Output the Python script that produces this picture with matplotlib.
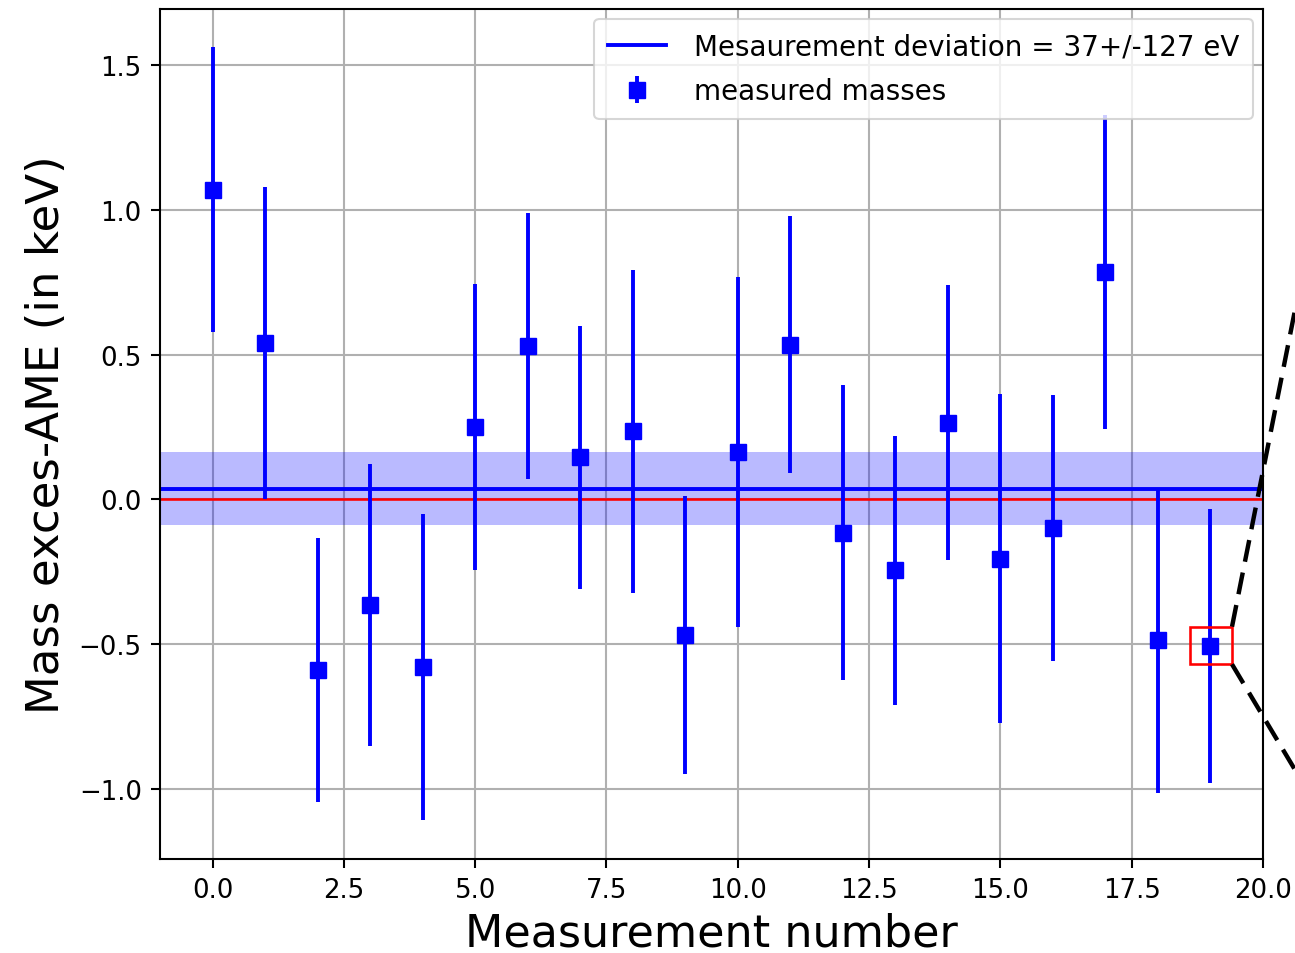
import numpy as np
import matplotlib
matplotlib.use("Agg")
import matplotlib.pyplot as plt
from matplotlib.patches import Rectangle

# Mass excess relative to AME for each measurement (keV) and its uncertainty
measurement = list(range(20))
mass_excess = [1.07, 0.54, -0.59, -0.365, -0.58, 0.25, 0.53, 0.145, 0.235, -0.47,
               0.165, 0.535, -0.115, -0.245, 0.265, -0.205, -0.10, 0.785, -0.487, -0.507]
mass_err = [0.493, 0.54, 0.455, 0.487, 0.528, 0.495, 0.46, 0.455, 0.557, 0.48,
            0.605, 0.445, 0.51, 0.465, 0.475, 0.568, 0.46, 0.543, 0.527, 0.475]

# Weighted deviation (eV)
mean_dev_ev = 37
mean_err_ev = 127

S = 1.87  # global size scale

fig = plt.figure(figsize=(12.95, 9.54), dpi=100)
ax = fig.add_axes([160 / 1295, 94 / 954, (1263 - 160) / 1295, (860 - 10) / 954])

mean_kev = mean_dev_ev / 1000.0
err_kev = mean_err_ev / 1000.0

ax.axhspan(mean_kev - err_kev, mean_kev + err_kev, color="blue", alpha=0.27, lw=0, zorder=1)
ax.axhline(0, color="red", lw=1.0 * S, zorder=2)
ax.axhline(mean_kev, color="blue", lw=1.5 * S, zorder=2,
           label=f"Mesaurement deviation = {mean_dev_ev}+/-{mean_err_ev} eV")

ax.errorbar(measurement, mass_excess, yerr=mass_err, fmt="s", color="blue",
            markersize=6.5 * S, elinewidth=1.5 * S, capsize=0, zorder=3,
            label="measured masses")

ax.set_xlim(-1, 20)
ax.set_ylim(-1.243, 1.695)
ax.grid(True, color="#b0b0b0", lw=0.8 * S, zorder=0)
ax.set_axisbelow(True)

ax.tick_params(labelsize=10 * S, width=0.8 * S, length=3.5 * S, pad=3.5 * S)
for sp in ax.spines.values():
    sp.set_linewidth(0.8 * S)

ax.set_xlabel("Measurement number", fontsize=32, labelpad=6)
ax.set_ylabel("Mass exces-AME (in keV)", fontsize=32.5, labelpad=8)

leg = ax.legend(loc="upper right", fontsize=20, borderpad=0.5, labelspacing=0.6,
                handlelength=2.1, handletextpad=1.0, borderaxespad=0.35)
leg.get_frame().set_linewidth(0.8 * S)

# Zoom indicator around the last measurement
box_x0, box_x1 = 18.61, 19.41
box_y0, box_y1 = -0.57, -0.44
ax.add_patch(Rectangle((box_x0, box_y0), box_x1 - box_x0, box_y1 - box_y0,
                       fill=False, edgecolor="red", lw=1.0 * S, zorder=4))
ax.plot([box_x1, 21.81], [box_y1, 1.75], color="black", lw=1.7 * S,
        dashes=(5, 2.5), clip_on=False, zorder=5)
ax.plot([box_x1, 21.81], [box_y0, -1.30], color="black", lw=1.7 * S,
        dashes=(5, 2.5), clip_on=False, zorder=5)

fig.savefig("out.png", dpi=100)
